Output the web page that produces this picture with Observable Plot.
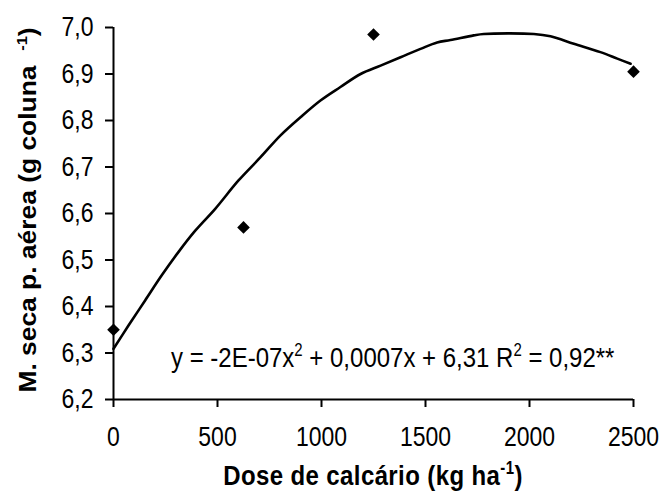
<!DOCTYPE html>
<html>
<head>
<meta charset="utf-8">
<script src="https://cdn.jsdelivr.net/npm/d3@7"></script>
<script src="https://cdn.jsdelivr.net/npm/@observablehq/plot@0.6"></script>
<style>
  html, body { margin: 0; padding: 0; background: white; }
  #chart { width: 659px; height: 492px; }
</style>
</head>
<body>
<div id="chart"></div>
<script>
// Observed means (diamonds)
const doses = [0, 625, 1250, 2500];
const massa = [6.35, 6.57, 6.985, 6.905];

// Fitted curve
const curveDose = [0, 72, 152, 232, 312, 393, 489, 601, 707, 803, 899, 995, 1091, 1188, 1284, 1380, 1476, 1556, 1620, 1732, 1780, 2021, 2101, 2213, 2341, 2422, 2486];
const curveMassa = [6.309, 6.359, 6.413, 6.467, 6.517, 6.563, 6.610, 6.671, 6.721, 6.768, 6.807, 6.843, 6.872, 6.900, 6.918, 6.936, 6.954, 6.968, 6.973, 6.983, 6.986, 6.986, 6.981, 6.965, 6.947, 6.933, 6.922];

// Tick values
const xTicks = [0, 500, 1000, 1500, 2000, 2500];
const yTicks = [6.2, 6.3, 6.4, 6.5, 6.6, 6.7, 6.8, 6.9, 7.0];

// Texts
const xTitle = ["Dose de calcário (kg ha", "-1", ")"];
const yTitle = ["M. seca p. aérea (g coluna  ", "-1", ")"];
const equation = ["y = -2E-07x", "2", " + 0,0007x + 6,31 R", "2", " = 0,92**"];

const points = doses.map((d, i) => ({dose: d, massa: massa[i]}));
const curve = curveDose.map((d, i) => ({dose: d, massa: curveMassa[i]}));

const K = 1.18; // vertical stretch of the glyphs in the reference
const FONT = "'Liberation Sans', Arial, sans-serif";

const plot = Plot.plot({
  width: 659,
  height: 492,
  marginLeft: 113,
  marginRight: 26,
  marginTop: 27,
  marginBottom: 93,
  style: {fontFamily: FONT, fontSize: "23px", background: "white", color: "black"},
  x: {domain: [0, 2500], axis: null},
  y: {domain: [6.2, 7.0], axis: null},
  marks: [
    Plot.axisX({ticks: xTicks, tickSize: 8, tickPadding: 19, strokeWidth: 2, label: null, fontSize: 23, tickFormat: d => String(d)}),
    Plot.axisY({ticks: yTicks, tickSize: 8, tickPadding: 12, strokeWidth: 2, label: null, fontSize: 23, tickFormat: d => d.toFixed(1).replace(".", ",")}),
    Plot.ruleY([6.2], {stroke: "black", strokeWidth: 2}),
    Plot.ruleX([0], {stroke: "black", strokeWidth: 2}),
    Plot.line(curve, {x: "dose", y: "massa", stroke: "black", strokeWidth: 2.6, curve: "catmull-rom"}),
    Plot.dot(points, {x: "dose", y: "massa", symbol: "diamond2", r: 5.7, fill: "black", stroke: "none"})
  ]
});

document.getElementById("chart").appendChild(plot);

const svg = d3.select(plot);

// stretch the tick labels vertically like the reference
function num(v) {
  if (v == null) return 0;
  const s = String(v).trim();
  return /^-?[\d.]+$/.test(s) ? +s : 0;
}
svg.selectAll("text").each(function() {
  const x = num(this.getAttribute("x"));
  const y = num(this.getAttribute("y"));
  const t = this.getAttribute("transform") || "";
  this.setAttribute("transform", `${t} translate(${x},${y}) scale(1,${K}) translate(${-x},${-y})`);
});

const xs = plot.scale("x"), ys = plot.scale("y");

// x title
{
  const g = svg.append("g").attr("transform", `translate(${(xs.apply(0) + xs.apply(2500)) / 2},485) scale(1,${K})`);
  const t = g.append("text").attr("text-anchor", "middle").attr("font-family", FONT)
    .attr("font-size", 24).attr("font-weight", "bold").attr("letter-spacing", 0.4).attr("fill", "black");
  t.append("tspan").text(xTitle[0]);
  t.append("tspan").attr("font-size", 15).attr("dy", -9).text(xTitle[1]);
  t.append("tspan").attr("dy", 9).text(xTitle[2]);
}

// y title
{
  const cy = (ys.apply(6.2) + ys.apply(7.0)) / 2 - 3;
  const g = svg.append("g").attr("transform", `translate(36,${cy}) rotate(-90) scale(1.1,1)`);
  const t = g.append("text").attr("text-anchor", "middle").attr("font-family", FONT)
    .attr("font-size", 24).attr("font-weight", "bold").attr("fill", "black")
    .style("white-space", "pre");
  t.append("tspan").text(yTitle[0]);
  t.append("tspan").attr("font-size", 15).attr("dy", -9).text(yTitle[1]);
  t.append("tspan").attr("dy", 9).text(yTitle[2]);
}

// regression equation
{
  const g = svg.append("g").attr("transform", `translate(${xs.apply(279)},${ys.apply(6.269)}) scale(1,${K})`);
  const t = g.append("text").attr("text-anchor", "start").attr("font-family", FONT)
    .attr("font-size", 24).attr("fill", "black").style("white-space", "pre");
  equation.forEach((s, i) => {
    const sp = t.append("tspan").text(s);
    if (i === 1 || i === 3) sp.attr("font-size", 15).attr("dy", -9);
    else if (i > 0) sp.attr("dy", 9);
  });
}
</script>
</body>
</html>
